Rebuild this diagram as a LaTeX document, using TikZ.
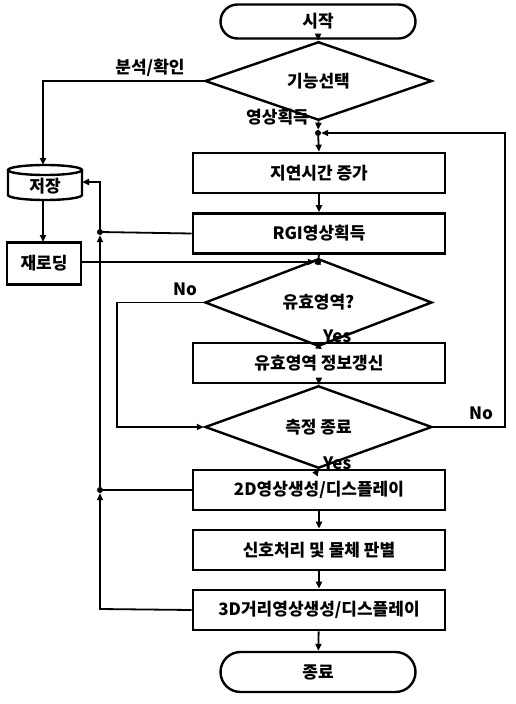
\documentclass[tikz,border=0pt]{standalone}
\usepackage{fontspec}
\setmainfont{Noto Sans CJK KR}
\usetikzlibrary{shapes.geometric,shapes.misc,arrows.meta}
\begin{document}
\begin{tikzpicture}[x=1pt,y=-1pt,
  every node/.style={font=\fontsize{17}{18}\selectfont\bfseries},
  boxst/.style={draw,line width=2.6pt,minimum width=252pt,minimum height=40pt,inner sep=0pt},
  termst/.style={draw,line width=2.4pt,rounded rectangle,minimum width=195pt,minimum height=34pt,inner sep=0pt},
  decst/.style={draw,line width=2.4pt,diamond,minimum width=227pt,minimum height=47pt,inner sep=0pt},
  conn/.style={line width=1.8pt,-{Triangle[length=7pt,width=6pt]}},
  plain/.style={line width=1.8pt},
  lbl/.style={inner sep=0pt},
  dot/.style={circle,fill,inner sep=0pt,minimum size=6pt}]
\useasboundingbox (0,0) rectangle (516,704);
\node[termst] (start) at (318,21.5) {시작};
\node[decst] (sel) at (318.5,81) {기능선택};
\node[boxst] (delay) at (319,173) {지연시간 증가};
\node[boxst] (rgi) at (319,233.5) {RGI영상획득};
\node[decst] (valid) at (318.5,302.5) {유효영역?};
\node[boxst] (upd) at (319,363) {유효영역 정보갱신};
\node[decst,minimum height=46pt] (meas) at (318.5,427) {측정 종료};
\node[boxst] (d2) at (319,490) {2D영상생성/디스플레이};
\node[boxst] (sig) at (319,550) {신호처리 및 물체 판별};
\node[boxst] (d3) at (319,610) {3D거리영상생성/디스플레이};
\node[termst,minimum height=40pt] (fin) at (318,672) {종료};
% storage cylinder
\node[minimum width=74pt,minimum height=30pt,inner sep=0pt] (store) at (45,186) {저장};
\draw[line width=2.4pt] (45,170) ellipse [x radius=37pt, y radius=5pt];
\draw[line width=2.4pt] (8,170) -- (8,195) arc[start angle=180,end angle=360,x radius=37pt,y radius=5pt] -- (82,170);
\node[draw,line width=2.6pt,minimum width=74pt,minimum height=42pt,inner sep=0pt] (reload) at (44,263.5) {재로딩};
% junctions
\node[dot] (j1) at (318,133) {};
\node[dot] (j2) at (318,262) {};
\node[dot] (jr) at (100,232) {};
\node[dot] (jd) at (100,490) {};
\coordinate (stin) at (43,165);
\coordinate (ctl) at (43,81);
\coordinate (stright) at (100,182);
\coordinate (d3l) at (100,609);
\coordinate (vl) at (117,302.5);
\coordinate (vlb) at (117,427);
\coordinate (mr) at (505,427);
\coordinate (mrt) at (505,133);
% connectors
\draw[conn] (start) -- (sel);
\draw[conn] (sel.west) -- (ctl) -- (stin);
\node[lbl,anchor=south] at (150,77) {분석/확인};
\draw[conn] (sel.south) -- (j1);
\node[lbl,anchor=east] at (309,117) {영상획득};
\draw[conn] (j1) -- (delay.north);
\draw[conn] (delay) -- (rgi);
\draw[plain] (rgi.west) -- (jr);
\draw[conn] (d3.west) -- (d3l) -- (jd);
\draw[conn] (jd) -- (jr);
\draw[conn] (jr) -- (stright) -- (82,182);
\draw[plain] (d2.west) -- (jd);
\draw[conn] (43,200) -- (43,242);
\draw[conn] (reload.east |- j2) -- (j2);
\draw[plain] (rgi.south) -- (j2);
\draw[conn] (j2) -- (valid.north);
\draw[conn] (valid.west) -- (vl) -- (vlb) -- (meas.west);
\node[lbl] at (185,289) {No};
\draw[conn] (valid.south) -- (upd.north);
\node[lbl,anchor=south west] at (323,343) {Yes};
\draw[conn] (upd) -- (meas);
\draw[conn] (meas.east) -- (mr) -- (mrt) -- (j1);
\node[lbl] at (481,413) {No};
\draw[conn] (meas.south) -- (d2.north);
\node[lbl,anchor=south west] at (323,470) {Yes};
\draw[conn] (d2) -- (sig);
\draw[conn] (sig) -- (d3);
\draw[conn] (d3) -- (fin);
\end{tikzpicture}
\end{document}
